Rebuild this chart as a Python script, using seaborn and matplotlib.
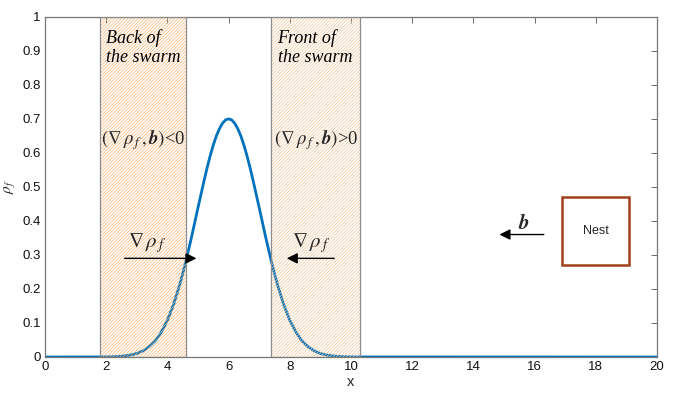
import numpy as np
import pandas as pd
import matplotlib
matplotlib.use("Agg")
import matplotlib.pyplot as plt
import seaborn as sns
from matplotlib.patches import Rectangle

# density profile
x_vals = [0.0, 1.8, 2.0, 2.2, 2.4, 2.6, 2.8, 3.0, 3.2, 3.4, 3.6, 3.8, 4.0, 4.2, 4.4,
          4.5, 4.6, 4.7, 4.8, 4.9, 5.0, 5.1, 5.2, 5.3, 5.4, 5.5, 5.6, 5.7, 5.8, 5.9, 6.0,
          6.1, 6.2, 6.3, 6.4, 6.5, 6.6, 6.7, 6.8, 6.9, 7.0, 7.1, 7.2, 7.3, 7.4, 7.5,
          7.6, 7.8, 8.0, 8.2, 8.4, 8.6, 8.8, 9.0, 9.2, 9.4, 9.6, 9.8, 10.0, 10.2, 20.0]
rho_vals = [0.0, 0.0001, 0.0003, 0.0008, 0.0016, 0.0032, 0.0059, 0.0104, 0.018, 0.030, 0.047,
            0.073, 0.108, 0.154, 0.212,
            0.245, 0.280, 0.318, 0.357, 0.398, 0.439, 0.479, 0.519, 0.557, 0.592, 0.623,
            0.650, 0.671, 0.687, 0.697, 0.700,
            0.697, 0.687, 0.671, 0.650, 0.623, 0.592, 0.557, 0.519, 0.479, 0.439, 0.398,
            0.357, 0.318, 0.280, 0.245,
            0.212, 0.154, 0.108, 0.073, 0.047, 0.030, 0.018, 0.0104, 0.0059, 0.0032, 0.0016,
            0.0008, 0.0003, 0.0001, 0.0]

back_region = (1.8, 4.6)
front_region = (7.4, 10.3)
nest_box = (16.9, 0.27, 2.2, 0.2)

df = pd.DataFrame({"x": x_vals, "rho": rho_vals})

sns.set_style("white")
plt.rcParams["font.family"] = ["Liberation Sans", "DejaVu Sans"]
plt.rcParams["mathtext.fontset"] = "stix"
plt.rcParams["hatch.linewidth"] = 0.5

fig = plt.figure(figsize=(6.9, 3.96), dpi=100)
ax = fig.add_axes([0.0652, 0.0985, 0.887, 0.859])

sns.lineplot(data=df, x="x", y="rho", ax=ax, color="#0072BD", linewidth=2, zorder=2)

# shaded regions
for (a, b), hc in [(back_region, "#f7b77a"), (front_region, "#f3c79c")]:
    ax.add_patch(Rectangle((a, 0), b - a, 1, facecolor="none", edgecolor=hc,
                           hatch="//////////", linewidth=0, zorder=3))
    ax.add_patch(Rectangle((a, 0), b - a, 1, facecolor="none", edgecolor="#8c8c8c",
                           linewidth=0.9, zorder=4))

tfont = dict(family="Liberation Serif", style="italic", fontsize=13, zorder=5, color="black")
ax.text(1.98, 0.965, "Back of\nthe swarm", ha="left", va="top", linespacing=1.2, **tfont)
ax.text(7.6, 0.965, "Front of\nthe swarm", ha="left", va="top", linespacing=1.2, **tfont)

mfont = dict(family="Liberation Serif", fontsize=13.5, zorder=5, ha="center", va="center")
ax.text(3.2, 0.64, r"$(\nabla\,\rho_{\,f}\,,\mathbfit{b})$<0", **mfont)
ax.text(8.85, 0.64, r"$(\nabla\,\rho_{\,f}\,,\mathbfit{b})$>0", **mfont)
big = dict(mfont, fontsize=15)
ax.text(3.35, 0.335, r"$\nabla\,\rho_{\,f}$", **big)
ax.text(8.7, 0.335, r"$\nabla\,\rho_{\,f}$", **big)
ax.text(15.65, 0.39, r"$\mathbfit{b}$", **big)

arrow = dict(arrowstyle="-|>", color="black", lw=1, mutation_scale=16, shrinkA=0, shrinkB=0)
ax.annotate("", xy=(4.95, 0.29), xytext=(2.6, 0.29), arrowprops=arrow, zorder=5)
ax.annotate("", xy=(7.9, 0.29), xytext=(9.45, 0.29), arrowprops=arrow, zorder=5)
ax.annotate("", xy=(14.85, 0.36), xytext=(16.3, 0.36), arrowprops=arrow, zorder=5)

# nest
nx, ny, nw, nh = nest_box
ax.add_patch(Rectangle((nx, ny), nw, nh, facecolor="white", edgecolor="#a0401c",
                       linewidth=1.8, zorder=5))
ax.text(nx + nw / 2, ny + nh / 2, "Nest", ha="center", va="center", fontsize=9, zorder=6)

ax.set_xlim(0, 20)
ax.set_ylim(0, 1)
ax.set_xticks(np.arange(0, 21, 2))
ax.set_yticks(np.arange(0, 1.01, 0.1))
ax.set_yticklabels(["0", "0.1", "0.2", "0.3", "0.4", "0.5", "0.6", "0.7", "0.8", "0.9", "1"])
ax.tick_params(direction="in", length=4, width=0.6, color="#555555", labelsize=9.5,
               labelcolor="#111111", top=True, right=True, pad=3)
for s in ax.spines.values():
    s.set_color("#777777")
    s.set_linewidth(0.9)
ax.set_xlabel("x", fontsize=10.5, labelpad=1)
ax.set_ylabel(r"$\rho_f$", fontsize=11, labelpad=4)
ax.grid(False)

fig.savefig("out.png", dpi=100)
